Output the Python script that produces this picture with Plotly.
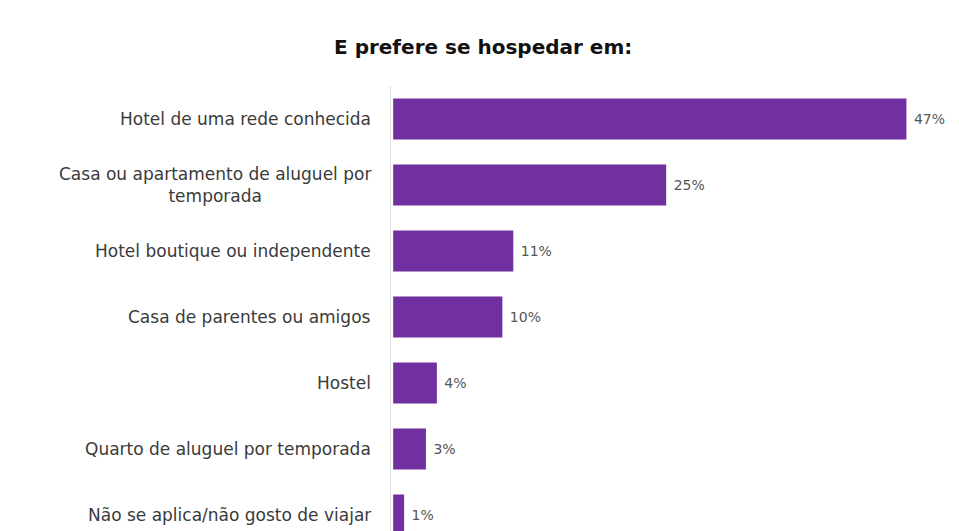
import plotly.graph_objects as go

# Survey answers: where respondents prefer to stay
categories = [
    "Hotel de uma rede conhecida",
    "Casa ou apartamento de aluguel por<br>temporada",
    "Hotel boutique ou independente",
    "Casa de parentes ou amigos",
    "Hostel",
    "Quarto de aluguel por temporada",
    "Não se aplica/não gosto de viajar",
]
values = [47, 25, 11, 10, 4, 3, 1]

title_text = "E prefere se hospedar em:"

BAR_COLOR = "#7030A0"
LABEL_FONT = "DejaVu Sans"

W, H = 959, 531
ML, MT = 391, 86
px_per_unit = 10.92
cat_step = 66.0
plot_w = W - ML
plot_h = H - MT

fig = go.Figure()
fig.add_trace(
    go.Bar(
        x=values,
        y=list(range(len(categories))),
        orientation="h",
        marker=dict(color=BAR_COLOR, line=dict(width=0)),
        text=[f" {v}%" for v in values],
        textposition="outside",
        textfont=dict(family=LABEL_FONT, size=14, color="#555555"),
        cliponaxis=False,
        hoverinfo="skip",
    )
)

# Category labels as annotations so the wrapped label stays centred
for i, cat in enumerate(categories):
    fig.add_annotation(
        x=0, xref="paper", xanchor="right", xshift=-18,
        y=i, yref="y", yanchor="middle",
        text=cat, showarrow=False, align="center",
        font=dict(family=LABEL_FONT, size=17, color="#3a3a3a"),
    )

# Chart title, placed in paper coordinates
fig.add_annotation(
    x=(483 - ML) / plot_w, xref="paper", xanchor="center",
    y=1 + (MT - 47) / plot_h, yref="paper", yanchor="middle",
    text=f"<b>{title_text}</b>", showarrow=False,
    font=dict(family=LABEL_FONT, size=20, color="#111111"),
)

fig.update_layout(
    width=W, height=H,
    margin=dict(l=ML, r=0, t=MT, b=0, pad=0),
    paper_bgcolor="white", plot_bgcolor="white",
    showlegend=False,
    bargap=1 - 41 / cat_step,
    xaxis=dict(
        range=[-0.2, -0.2 + plot_w / px_per_unit],
        showgrid=False, zeroline=False, showticklabels=False,
        showline=False, ticks="", fixedrange=True,
    ),
    yaxis=dict(
        range=[-0.5 + plot_h / cat_step, -0.5],
        showgrid=False, zeroline=False, showticklabels=False,
        showline=True, linecolor="#dcdcdc", linewidth=1,
        ticks="", fixedrange=True,
    ),
)

fig.write_html("out.html")
